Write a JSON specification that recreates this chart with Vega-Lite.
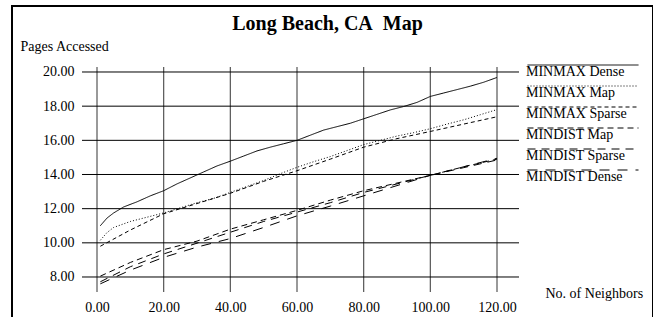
{
  "$schema": "https://vega.github.io/schema/vega-lite/v6.json",
  "autosize": "none",
  "width": 641,
  "height": 313,
  "padding": {"left": 12, "top": 6, "right": 0, "bottom": 0},
  "background": "white",
  "config": {
    "font": "Liberation Serif",
    "view": {"stroke": "black", "strokeWidth": 2},
    "axis": {"labelFont": "Liberation Serif", "titleFont": "Liberation Serif", "labelColor": "black", "titleColor": "black"}
  },
  "title": {
    "text": "Long Beach, CA\u00a0 Map",
    "font": "Liberation Serif",
    "fontSize": 20,
    "fontWeight": "bold",
    "color": "black",
    "anchor": "middle",
    "orient": "top",
    "baseline": "alphabetic",
    "offset": -25,
    "dy": 19,
    "dx": -5
  },
  "datasets": {
    "series": [
      {"n": 1, "pages": 11.0, "series": "MINMAX Dense"},
      {"n": 3, "pages": 11.45, "series": "MINMAX Dense"},
      {"n": 5, "pages": 11.75, "series": "MINMAX Dense"},
      {"n": 8, "pages": 12.1, "series": "MINMAX Dense"},
      {"n": 12, "pages": 12.4, "series": "MINMAX Dense"},
      {"n": 16, "pages": 12.75, "series": "MINMAX Dense"},
      {"n": 20, "pages": 13.05, "series": "MINMAX Dense"},
      {"n": 24, "pages": 13.45, "series": "MINMAX Dense"},
      {"n": 28, "pages": 13.8, "series": "MINMAX Dense"},
      {"n": 32, "pages": 14.15, "series": "MINMAX Dense"},
      {"n": 36, "pages": 14.5, "series": "MINMAX Dense"},
      {"n": 40, "pages": 14.78, "series": "MINMAX Dense"},
      {"n": 44, "pages": 15.08, "series": "MINMAX Dense"},
      {"n": 48, "pages": 15.38, "series": "MINMAX Dense"},
      {"n": 52, "pages": 15.6, "series": "MINMAX Dense"},
      {"n": 56, "pages": 15.8, "series": "MINMAX Dense"},
      {"n": 60, "pages": 16.0, "series": "MINMAX Dense"},
      {"n": 64, "pages": 16.3, "series": "MINMAX Dense"},
      {"n": 68, "pages": 16.6, "series": "MINMAX Dense"},
      {"n": 72, "pages": 16.8, "series": "MINMAX Dense"},
      {"n": 76, "pages": 17.0, "series": "MINMAX Dense"},
      {"n": 80, "pages": 17.26, "series": "MINMAX Dense"},
      {"n": 84, "pages": 17.52, "series": "MINMAX Dense"},
      {"n": 88, "pages": 17.78, "series": "MINMAX Dense"},
      {"n": 92, "pages": 17.98, "series": "MINMAX Dense"},
      {"n": 96, "pages": 18.22, "series": "MINMAX Dense"},
      {"n": 100, "pages": 18.57, "series": "MINMAX Dense"},
      {"n": 104, "pages": 18.77, "series": "MINMAX Dense"},
      {"n": 108, "pages": 18.97, "series": "MINMAX Dense"},
      {"n": 112, "pages": 19.17, "series": "MINMAX Dense"},
      {"n": 116, "pages": 19.4, "series": "MINMAX Dense"},
      {"n": 120, "pages": 19.68, "series": "MINMAX Dense"},

      {"n": 1, "pages": 10.15, "series": "MINMAX Map"},
      {"n": 3, "pages": 10.6, "series": "MINMAX Map"},
      {"n": 5, "pages": 10.9, "series": "MINMAX Map"},
      {"n": 10, "pages": 11.25, "series": "MINMAX Map"},
      {"n": 15, "pages": 11.5, "series": "MINMAX Map"},
      {"n": 20, "pages": 11.75, "series": "MINMAX Map"},
      {"n": 25, "pages": 12.05, "series": "MINMAX Map"},
      {"n": 30, "pages": 12.35, "series": "MINMAX Map"},
      {"n": 35, "pages": 12.6, "series": "MINMAX Map"},
      {"n": 40, "pages": 12.95, "series": "MINMAX Map"},
      {"n": 45, "pages": 13.3, "series": "MINMAX Map"},
      {"n": 50, "pages": 13.65, "series": "MINMAX Map"},
      {"n": 55, "pages": 14.05, "series": "MINMAX Map"},
      {"n": 60, "pages": 14.42, "series": "MINMAX Map"},
      {"n": 65, "pages": 14.75, "series": "MINMAX Map"},
      {"n": 70, "pages": 15.05, "series": "MINMAX Map"},
      {"n": 75, "pages": 15.4, "series": "MINMAX Map"},
      {"n": 80, "pages": 15.75, "series": "MINMAX Map"},
      {"n": 85, "pages": 16.0, "series": "MINMAX Map"},
      {"n": 90, "pages": 16.25, "series": "MINMAX Map"},
      {"n": 95, "pages": 16.45, "series": "MINMAX Map"},
      {"n": 100, "pages": 16.68, "series": "MINMAX Map"},
      {"n": 105, "pages": 16.95, "series": "MINMAX Map"},
      {"n": 110, "pages": 17.2, "series": "MINMAX Map"},
      {"n": 115, "pages": 17.5, "series": "MINMAX Map"},
      {"n": 120, "pages": 17.8, "series": "MINMAX Map"},

      {"n": 1, "pages": 9.8, "series": "MINMAX Sparse"},
      {"n": 10, "pages": 10.75, "series": "MINMAX Sparse"},
      {"n": 20, "pages": 11.7, "series": "MINMAX Sparse"},
      {"n": 30, "pages": 12.3, "series": "MINMAX Sparse"},
      {"n": 40, "pages": 12.9, "series": "MINMAX Sparse"},
      {"n": 50, "pages": 13.6, "series": "MINMAX Sparse"},
      {"n": 60, "pages": 14.22, "series": "MINMAX Sparse"},
      {"n": 70, "pages": 14.9, "series": "MINMAX Sparse"},
      {"n": 80, "pages": 15.6, "series": "MINMAX Sparse"},
      {"n": 90, "pages": 16.1, "series": "MINMAX Sparse"},
      {"n": 100, "pages": 16.52, "series": "MINMAX Sparse"},
      {"n": 110, "pages": 16.95, "series": "MINMAX Sparse"},
      {"n": 120, "pages": 17.38, "series": "MINMAX Sparse"},

      {"n": 1, "pages": 8.05, "series": "MINDIST Map"},
      {"n": 10, "pages": 8.85, "series": "MINDIST Map"},
      {"n": 20, "pages": 9.6, "series": "MINDIST Map"},
      {"n": 30, "pages": 10.1, "series": "MINDIST Map"},
      {"n": 40, "pages": 10.8, "series": "MINDIST Map"},
      {"n": 50, "pages": 11.35, "series": "MINDIST Map"},
      {"n": 60, "pages": 11.9, "series": "MINDIST Map"},
      {"n": 70, "pages": 12.5, "series": "MINDIST Map"},
      {"n": 80, "pages": 13.05, "series": "MINDIST Map"},
      {"n": 90, "pages": 13.5, "series": "MINDIST Map"},
      {"n": 100, "pages": 13.95, "series": "MINDIST Map"},
      {"n": 110, "pages": 14.45, "series": "MINDIST Map"},
      {"n": 120, "pages": 14.9, "series": "MINDIST Map"},

      {"n": 1, "pages": 7.72, "series": "MINDIST Sparse"},
      {"n": 10, "pages": 8.6, "series": "MINDIST Sparse"},
      {"n": 20, "pages": 9.35, "series": "MINDIST Sparse"},
      {"n": 30, "pages": 9.98, "series": "MINDIST Sparse"},
      {"n": 40, "pages": 10.62, "series": "MINDIST Sparse"},
      {"n": 50, "pages": 11.25, "series": "MINDIST Sparse"},
      {"n": 60, "pages": 11.8, "series": "MINDIST Sparse"},
      {"n": 70, "pages": 12.35, "series": "MINDIST Sparse"},
      {"n": 80, "pages": 12.95, "series": "MINDIST Sparse"},
      {"n": 90, "pages": 13.45, "series": "MINDIST Sparse"},
      {"n": 100, "pages": 13.95, "series": "MINDIST Sparse"},
      {"n": 110, "pages": 14.4, "series": "MINDIST Sparse"},
      {"n": 120, "pages": 14.85, "series": "MINDIST Sparse"},

      {"n": 1, "pages": 7.6, "series": "MINDIST Dense"},
      {"n": 10, "pages": 8.4, "series": "MINDIST Dense"},
      {"n": 20, "pages": 9.15, "series": "MINDIST Dense"},
      {"n": 30, "pages": 9.75, "series": "MINDIST Dense"},
      {"n": 40, "pages": 10.25, "series": "MINDIST Dense"},
      {"n": 50, "pages": 10.9, "series": "MINDIST Dense"},
      {"n": 60, "pages": 11.58, "series": "MINDIST Dense"},
      {"n": 70, "pages": 12.15, "series": "MINDIST Dense"},
      {"n": 80, "pages": 12.75, "series": "MINDIST Dense"},
      {"n": 90, "pages": 13.35, "series": "MINDIST Dense"},
      {"n": 100, "pages": 13.95, "series": "MINDIST Dense"},
      {"n": 110, "pages": 14.45, "series": "MINDIST Dense"},
      {"n": 120, "pages": 14.95, "series": "MINDIST Dense"}
    ],
    "vgrid": [{"gx": 0}, {"gx": 20}, {"gx": 40}, {"gx": 60}, {"gx": 80}, {"gx": 100}, {"gx": 120}],
    "hgrid": [{"gy": 8}, {"gy": 10}, {"gy": 12}, {"gy": 14}, {"gy": 16}, {"gy": 18}, {"gy": 20}]
  },
  "layer": [
    {
      "data": {"name": "vgrid"},
      "mark": {"type": "rule", "stroke": "#555555", "strokeWidth": 1.2},
      "encoding": {
        "x": {
          "field": "gx", "type": "quantitative",
          "scale": {"domain": [-25.5, 166.8], "nice": false, "zero": false},
          "axis": {
            "orient": "bottom", "offset": -27, "values": [0, 20, 40, 60, 80, 100, 120], "format": ".2f",
            "grid": false, "domain": false, "ticks": false, "labelPadding": 8, "labelFontSize": 14,
            "title": "No. of Neighbors", "titleFontSize": 14, "titleFontWeight": "normal",
            "titleAnchor": "start", "titleAlign": "left", "titleBaseline": "middle", "titleX": 533, "titleY": 1
          }
        },
        "y": {
          "datum": 7.12, "type": "quantitative",
          "scale": {"domain": [5.5415, 23.863], "nice": false, "zero": false},
          "axis": {
            "orient": "left", "offset": -70, "values": [8, 10, 12, 14, 16, 18, 20], "format": ".2f",
            "grid": false, "domain": false, "ticks": false, "labelPadding": 8, "labelFontSize": 14,
            "title": "Pages Accessed", "titleFontSize": 14, "titleFontWeight": "normal", "titleAngle": 0,
            "titleAlign": "left", "titleBaseline": "middle", "titleX": -62, "titleY": 40
          }
        },
        "y2": {"datum": 20.29}
      }
    },
    {
      "data": {"name": "hgrid"},
      "mark": {"type": "rule", "stroke": "black", "strokeWidth": 1},
      "encoding": {
        "y": {"field": "gy", "type": "quantitative"},
        "x": {"datum": -4.5, "type": "quantitative"},
        "x2": {"datum": 126.6}
      }
    },
    {
      "data": {"name": "series"},
      "mark": {"type": "line", "stroke": "black", "strokeWidth": 1},
      "encoding": {
        "x": {"field": "n", "type": "quantitative"},
        "y": {"field": "pages", "type": "quantitative"},
        "strokeDash": {
          "field": "series", "type": "nominal",
          "scale": {
            "domain": ["MINMAX Dense", "MINMAX Map", "MINMAX Sparse", "MINDIST Map", "MINDIST Sparse", "MINDIST Dense"],
            "range": [[1, 0], [1, 2], [4, 3], [6, 4], [8, 6], [10, 8]]
          },
          "legend": {
            "orient": "none", "legendX": 564, "legendY": 52, "title": null,
            "symbolType": "M-11.1,0H11.1", "symbolSize": 100, "symbolStrokeWidth": 1, "symbolStrokeColor": "black",
            "labelFont": "Liberation Serif", "labelFontSize": 14, "labelColor": "black",
            "labelBaseline": "top", "labelOffset": -64, "rowPadding": 0
          }
        }
      }
    }
  ]
}
